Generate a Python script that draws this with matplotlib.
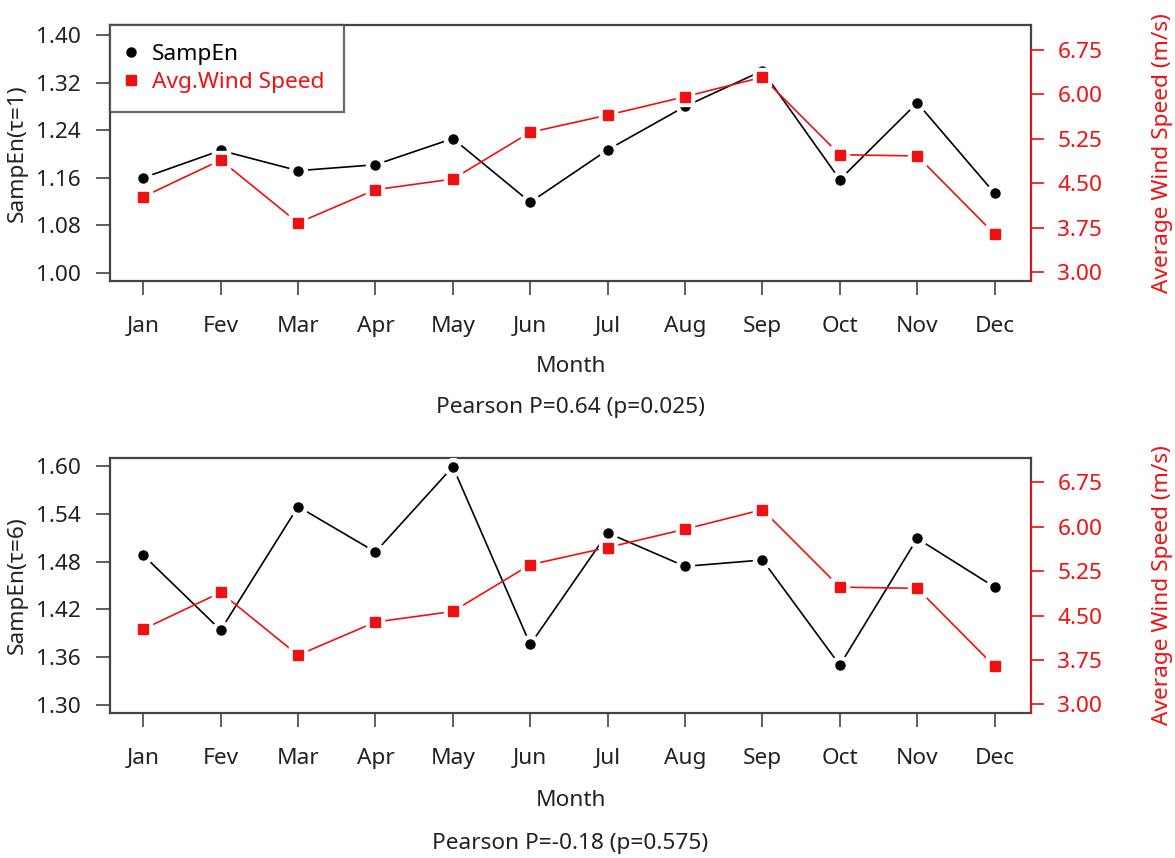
import matplotlib
matplotlib.use("Agg")
import matplotlib.pyplot as plt
from matplotlib.lines import Line2D
import numpy as np

plt.rcParams['font.family'] = ['Noto Sans', 'DejaVu Sans']

months = ["Jan", "Fev", "Mar", "Apr", "May", "Jun", "Jul", "Aug", "Sep", "Oct", "Nov", "Dec"]
sampen_tau1 = [1.160, 1.206, 1.172, 1.182, 1.226, 1.119, 1.207, 1.280, 1.340, 1.157, 1.286, 1.134]
sampen_tau6 = [1.488, 1.394, 1.549, 1.492, 1.599, 1.376, 1.516, 1.474, 1.482, 1.350, 1.509, 1.448]
wind_speed = [4.27, 4.89, 3.83, 4.39, 4.57, 5.36, 5.65, 5.96, 6.29, 4.98, 4.96, 3.64]

left_ticks_1 = [1.00, 1.08, 1.16, 1.24, 1.32, 1.40]
left_ticks_6 = [1.30, 1.36, 1.42, 1.48, 1.54, 1.60]
right_ticks = [3.00, 3.75, 4.50, 5.25, 6.00, 6.75]

ylabel_1 = "SampEn(τ=1)"
ylabel_6 = "SampEn(τ=6)"
right_label = "Average Wind Speed (m/s)"
xlabel = "Month"
pearson_1 = "Pearson P=0.64 (p=0.025)"
pearson_6 = "Pearson P=-0.18 (p=0.575)"

RED = "#ee1111"
DARK = "#222222"
SPINE = "#444444"
FS = 16.3

W, H = 1175, 858
fig = plt.figure(figsize=(W / 100, H / 100), dpi=100)


def make_panel(rect, sampen, left_ticks, left_lim, ylabel, pearson, month_y, pearson_y, legend):
    ax = fig.add_axes(rect)
    x = np.arange(len(months))
    ax.plot(x, sampen, color="black", lw=1.2, zorder=2)
    ax.plot(x, sampen, ls="none", marker="o", ms=13, mfc="white", mec="white", zorder=3)
    ax.plot(x, sampen, ls="none", marker="o", ms=6.5, mfc="black", mec="black", zorder=4)
    ax.set_xlim(-0.43, 11.47)
    ax.set_ylim(*left_lim)
    ax.set_yticks(left_ticks)
    ax.set_yticklabels([f"{v:.2f}" for v in left_ticks])
    ax.set_xticks(x)
    ax.set_xticklabels(months)
    ax.tick_params(axis="both", direction="out", length=10, width=1.2, color=SPINE,
                   labelcolor=DARK, labelsize=FS)
    ax.tick_params(axis="x", pad=15)
    ax.tick_params(axis="y", pad=11)
    for s in ax.spines.values():
        s.set_color(SPINE)
        s.set_linewidth(1.6)
    ax.set_ylabel(ylabel, fontsize=FS, color=DARK, labelpad=6)

    ax2 = ax.twinx()
    ax2.plot(x, wind_speed, color=RED, lw=1.2, zorder=2)
    ax2.plot(x, wind_speed, ls="none", marker="s", ms=13, mfc="white", mec="white", zorder=3)
    ax2.plot(x, wind_speed, ls="none", marker="s", ms=6.5, mfc=RED, mec=RED, zorder=4)
    ax2.set_ylim(2.848, 7.171)
    ax2.set_yticks(right_ticks)
    ax2.set_yticklabels([f"{v:.2f}" for v in right_ticks])
    ax2.tick_params(axis="y", direction="out", length=9, width=1.2, color=RED,
                    labelcolor=RED, labelsize=FS, pad=10)
    for name, s in ax2.spines.items():
        s.set_visible(name == "right")
    ax2.spines["right"].set_color(RED)
    ax2.spines["right"].set_linewidth(1.2)
    ax2.spines["right"].set_bounds(2.848, 6.75)
    ax2.set_ylabel(right_label, fontsize=FS, color=RED, labelpad=36)

    cx = rect[0] + rect[2] / 2
    fig.text(cx, month_y, xlabel, ha="center", va="center", fontsize=FS, color=DARK)
    fig.text(cx, pearson_y, pearson, ha="center", va="center", fontsize=FS, color=DARK)

    if legend:
        handles = [
            Line2D([], [], ls="none", marker="o", ms=6.5, color="black"),
            Line2D([], [], ls="none", marker="s", ms=6.5, color=RED),
        ]
        leg = ax2.legend(handles, ["SampEn", "Avg.Wind Speed"], loc="upper left",
                         bbox_to_anchor=(0, 1), borderaxespad=0, fontsize=FS,
                         frameon=True, fancybox=False, handlelength=0.16,
                         handletextpad=0.85, borderpad=0.85, labelspacing=0.3)
        leg.get_frame().set_edgecolor(SPINE)
        leg.get_frame().set_linewidth(1.6)
        leg.get_texts()[0].set_color("black")
        leg.get_texts()[1].set_color(RED)
    return ax, ax2


def rect_from_px(l, r, t, b):
    return [l / W, 1 - b / H, (r - l) / W, (b - t) / H]


make_panel(rect_from_px(110, 1031, 25, 281), sampen_tau1, left_ticks_1, (0.9866, 1.4168),
           ylabel_1, pearson_1, 1 - 367 / H, 1 - 408 / H, True)
make_panel(rect_from_px(110, 1031, 457.5, 713.3), sampen_tau6, left_ticks_6, (1.2896, 1.6106),
           ylabel_6, pearson_6, 1 - 800 / H, 1 - 843 / H, False)

fig.savefig("out.png", dpi=100)
